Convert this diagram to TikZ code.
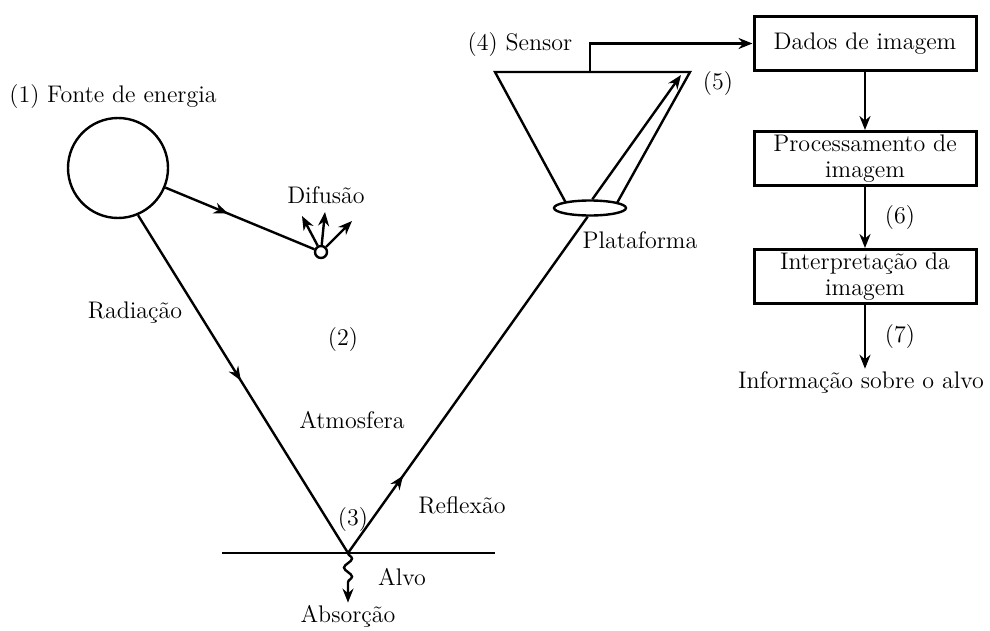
\documentclass[tikz,border=0pt]{standalone}
\usetikzlibrary{arrows.meta,shapes.geometric,decorations.markings,decorations.pathmorphing}
\tikzset{
  ray/.style={line width=1.2pt},
  midarrow/.style={postaction={decorate},decoration={markings,mark=at position #1 with {\arrow{Stealth[length=7pt,width=5.5pt]}}}},
  tip/.style={line width=1.2pt,-{Stealth[length=7pt,width=5.5pt]}},
  stepbox/.style={draw,line width=1.5pt,minimum width=111pt,minimum height=27pt,align=center,inner sep=1pt},
  lbl/.style={inner sep=1pt}
}
\begin{document}
\begin{tikzpicture}[x=0.5pt,y=-0.5pt,font=\fontsize{12}{13}\selectfont]
\useasboundingbox (0,0) rectangle (990,631);
\node [circle,draw,line width=1.2pt,minimum size=50pt] (sun) at (118,168) {};
\node [circle,draw,line width=1.2pt,minimum size=6pt,inner sep=0pt] (scat) at (321,252) {};
\node [ellipse,draw,line width=1.2pt,minimum width=36pt,minimum height=7.5pt,inner sep=0pt] (plat) at (590,208) {};
\coordinate (apex) at (348,553);
\coordinate (gl) at (222,553);
\coordinate (gr) at (495,553);
\coordinate (d1) at (302,216);
\coordinate (d2) at (325,212);
\coordinate (d3) at (352,221);
\coordinate (ctl) at (495,72);
\coordinate (ctr) at (690,72);
\coordinate (cbl) at (566,203);
\coordinate (cbr) at (617,203);
\coordinate (stap) at (590,72);
\coordinate (rtip) at (681,75);
\node [lbl] (fonte) at (113,97) {(1) Fonte de energia};
\node [lbl] (dif) at (326,195) {Difusão};
\node [lbl] (rad) at (135,313) {Radiação};
\node [lbl] (n2) at (343,340) {(2)};
\node [lbl] (atm) at (352,420) {Atmosfera};
\node [lbl] (n3) at (353,520) {(3)};
\node [lbl] (refl) at (462,505) {Reflexão};
\node [lbl] (alvo) at (402,577) {Alvo};
\node [lbl] (absorb) at (348,616) {Absorção};
\node [lbl] (sensor) at (520,45) {(4) Sensor};
\node [lbl] (n5) at (718,84) {(5)};
\node [lbl] (platlbl) at (640,240) {Plataforma};
\node [stepbox] (dados) at (865,43.5) {Dados de imagem};
\node [stepbox] (proc) at (865,158.5) {Processamento de\\imagem};
\node [stepbox] (interp) at (865,276.5) {Interpretação da\\imagem};
\node [lbl] (info) at (861,382) {Informação sobre o alvo};
\draw [ray,midarrow=0.42] (sun) -- (scat);
\draw [tip] (scat) -- (d1);
\draw [tip] (scat) -- (d2);
\draw [tip] (scat) -- (d3);
\draw [ray,midarrow=0.49] (sun.-67) -- (apex);
\draw [ray] (gl) -- (gr);
\draw [ray,midarrow=0.23] (apex) -- (plat.255);
\draw [line width=1.2pt,-{Stealth[length=7pt,width=5.5pt]},decorate,decoration={snake,amplitude=2pt,segment length=9pt,post length=8pt}] (apex) -- (absorb.north);
\draw [ray] (cbl) -- (ctl) -- (ctr) -- (cbr);
\draw [tip] (plat.75) -- (rtip);
\draw [tip] (stap) |- (dados.west);
\draw [tip] (dados) -- (proc);
\draw [tip] (proc) -- node[right=6pt] {(6)} (interp);
\draw [tip] (interp) -- node[right=6pt] {(7)} (interp.south |- info.north);
\end{tikzpicture}
\end{document}
